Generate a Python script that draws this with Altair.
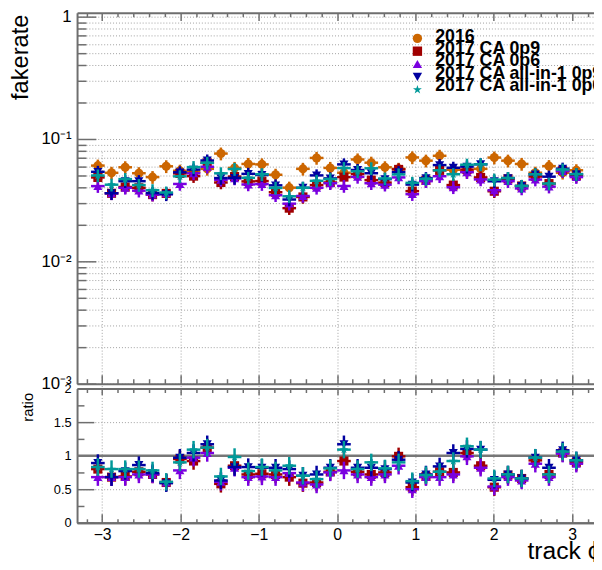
import altair as alt
import numpy as np
import pandas as pd

F = "Liberation Sans"
FRAME = "#6e6e6e"
GRID = "#a0a0a0"

# 36 bins in track phi from -pi to pi
phi_edges = np.linspace(-np.pi, np.pi, 37)

STAR = ("M0,-1L0.2245,-0.309L0.951,-0.309L0.363,0.118L0.588,0.809L0,0.382"
        "L-0.588,0.809L-0.363,0.118L-0.951,-0.309L-0.2245,-0.309Z")

series_names = ["2016", "2017 CA 0p9", "2017 CA 0p6", "2017 CA all-in-1 0p9", "2017 CA all-in-1 0p6"]
series_colors = ["#cc6600", "#a00000", "#7a00e0", "#0000a0", "#009999"]
series_shapes = ["circle", "square", "triangle-up", "triangle-down", STAR]

rate_2016 = [0.0606, 0.0529, 0.0587, 0.0525, 0.0488, 0.0598, 0.0550, 0.0540, 0.0570, 0.0760,
             0.0580, 0.0625, 0.0620, 0.0510, 0.0400, 0.0570, 0.0700, 0.0580, 0.0530, 0.0680,
             0.0640, 0.0587, 0.0570, 0.0707, 0.0665, 0.0729, 0.0560, 0.0540, 0.0570, 0.0705,
             0.0665, 0.0625, 0.0530, 0.0600, 0.0530, 0.0555]
rate_ca_0p9 = [0.0485, 0.0360, 0.0405, 0.0399, 0.0351, 0.0359, 0.0523, 0.0497, 0.0638, 0.0441,
               0.0493, 0.0450, 0.0453, 0.0367, 0.0272, 0.0336, 0.0420, 0.0441, 0.0488, 0.0517,
               0.0461, 0.0440, 0.0564, 0.0375, 0.0459, 0.0554, 0.0420, 0.0562, 0.0485, 0.0374,
               0.0472, 0.0413, 0.0493, 0.0432, 0.0551, 0.0500]
rate_ca_0p6 = [0.0412, 0.0360, 0.0399, 0.0378, 0.0351, 0.0359, 0.0429, 0.0524, 0.0593, 0.0464,
               0.0476, 0.0425, 0.0428, 0.0347, 0.0296, 0.0342, 0.0399, 0.0435, 0.0413, 0.0490,
               0.0435, 0.0423, 0.0485, 0.0354, 0.0452, 0.0496, 0.0403, 0.0535, 0.0467, 0.0381,
               0.0452, 0.0394, 0.0466, 0.0408, 0.0546, 0.0488]
rate_all_0p9 = [0.0539, 0.0360, 0.0452, 0.0452, 0.0361, 0.0353, 0.0534, 0.0562, 0.0667, 0.0479,
                0.0481, 0.0519, 0.0508, 0.0418, 0.0320, 0.0399, 0.0504, 0.0476, 0.0620, 0.0558,
                0.0525, 0.0470, 0.0536, 0.0424, 0.0479, 0.0612, 0.0582, 0.0594, 0.0621, 0.0451,
                0.0479, 0.0413, 0.0514, 0.0492, 0.0572, 0.0516]
rate_all_0p6 = [0.0503, 0.0423, 0.0470, 0.0420, 0.0381, 0.0365, 0.0495, 0.0589, 0.0638, 0.0524,
                0.0568, 0.0481, 0.0515, 0.0398, 0.0340, 0.0399, 0.0455, 0.0470, 0.0578, 0.0544,
                0.0576, 0.0475, 0.0513, 0.0438, 0.0472, 0.0554, 0.0515, 0.0616, 0.0621, 0.0465,
                0.0479, 0.0413, 0.0514, 0.0432, 0.0562, 0.0516]

ratio_ca_0p9 = [0.80, 0.68, 0.69, 0.76, 0.72, 0.60, 0.95, 0.92, 1.12, 0.58, 0.85, 0.72, 0.73, 0.72,
                0.68, 0.59, 0.60, 0.76, 0.92, 0.76, 0.72, 0.75, 0.99, 0.53, 0.69, 0.76, 0.75, 1.04,
                0.85, 0.53, 0.71, 0.66, 0.93, 0.72, 1.04, 0.90]
ratio_ca_0p6 = [0.68, 0.68, 0.68, 0.72, 0.72, 0.60, 0.78, 0.97, 1.04, 0.61, 0.82, 0.68, 0.69, 0.68,
                0.74, 0.60, 0.57, 0.75, 0.78, 0.72, 0.68, 0.72, 0.85, 0.50, 0.68, 0.68, 0.72, 0.99,
                0.82, 0.54, 0.68, 0.63, 0.88, 0.68, 1.03, 0.88]
ratio_all_0p9 = [0.89, 0.68, 0.77, 0.86, 0.74, 0.59, 0.97, 1.04, 1.17, 0.63, 0.83, 0.83, 0.82, 0.82,
                 0.80, 0.70, 0.72, 0.82, 1.17, 0.82, 0.82, 0.80, 0.94, 0.60, 0.72, 0.84, 1.04, 1.10,
                 1.09, 0.64, 0.72, 0.66, 0.97, 0.82, 1.08, 0.93]
ratio_all_0p6 = [0.83, 0.80, 0.80, 0.80, 0.78, 0.61, 0.90, 1.09, 1.12, 0.69, 0.98, 0.77, 0.83, 0.78,
                 0.85, 0.70, 0.65, 0.81, 1.09, 0.80, 0.90, 0.81, 0.90, 0.62, 0.71, 0.76, 0.92, 1.14,
                 1.09, 0.66, 0.72, 0.66, 0.97, 0.72, 1.06, 0.93]

rate_values = [rate_2016, rate_ca_0p9, rate_ca_0p6, rate_all_0p9, rate_all_0p6]
ratio_values = [ratio_ca_0p9, ratio_ca_0p6, ratio_all_0p9, ratio_all_0p6]
rate_relerr = [0.12, 0.12, 0.12, 0.12, 0.12]
ratio_err = [0.13, 0.13, 0.13, 0.13]

W, H = 524, 517
xscale = alt.Scale(domain=[-3.32, 3.28], nice=False, zero=False)


def top_scale():
    return alt.Scale(type="log", domain=[0.001, 1.077], range=[376, 0], nice=False)


def rat_scale():
    return alt.Scale(domain=[0, 2], range=[517, 381], nice=False, zero=False)


color_scale = alt.Scale(domain=series_names, range=series_colors)
shape_scale = alt.Scale(domain=series_names, range=series_shapes)

layers = []

# ---------------- axes (frame, ticks, grid, labels) ----------------
carrier_df = pd.DataFrame({"x": [0.0], "t": [0.1], "r": [1.0]})


def carrier(xaxis, yaxis, ratio):
    if ratio:
        yenc = alt.Y("r:Q", scale=rat_scale(), axis=yaxis)
    else:
        yenc = alt.Y("t:Q", scale=top_scale(), axis=yaxis)
    return alt.Chart(carrier_df).mark_point(opacity=0).encode(
        x=alt.X("x:Q", scale=xscale, axis=xaxis), y=yenc)


minor_phi = [round(-3.2 + 0.2 * k, 1) for k in range(33)]
major_phi = [-3, -2, -1, 0, 1, 2, 3]
is_int = "abs(datum.value - round(datum.value)) < 0.01"


def xtick_axis(orient, offset, major, minor):
    return alt.Axis(orient=orient, offset=offset, values=minor_phi, labels=False, title=None,
                    grid=False, domain=True, domainColor=FRAME, domainWidth=2, ticks=True,
                    tickColor=FRAME, tickWidth=1.5,
                    tickSize={"condition": {"test": is_int, "value": major}, "value": minor})


x_label_axis = alt.Axis(
    orient="bottom", offset=0, values=major_phi,
    labelExpr="datum.value < 0 ? '\u2212' + format(abs(datum.value), 'd') : format(datum.value, 'd')",
    labelFont=F, labelFontSize=16, labelColor="black", labelPadding=4,
    ticks=False, tickSize=0, domain=True, domainColor=FRAME, domainWidth=2,
    grid=True, gridColor=GRID, gridDash=[1, 2], gridWidth=1,
    title="track \u03d5", titleFont=F, titleFontSize=25, titleFontWeight="normal",
    titleColor="black", titleAlign="left", titleBaseline="alphabetic", titleX=456, titleY=36)

top_grid_vals = [m * 10.0 ** e for e in (-3, -2, -1) for m in range(1, 10)] + [1.0]
top_label_axis = alt.Axis(
    orient="left", offset=0, values=top_grid_vals,
    labelExpr=("abs(datum.value - 1) < 1e-6 ? '1' : abs(datum.value / 0.1 - 1) < 1e-6 ? '10\u207b\u00b9' : "
               "abs(datum.value / 0.01 - 1) < 1e-6 ? '10\u207b\u00b2' : "
               "abs(datum.value / 0.001 - 1) < 1e-6 ? '10\u207b\u00b3' : ''"),
    labelFont=F, labelFontSize=17, labelColor="black", labelPadding=6, labelOverlap=False,
    ticks=False, tickSize=0, domain=True, domainColor=FRAME, domainWidth=2,
    grid=True, gridColor=GRID, gridDash=[1, 2], gridWidth=1,
    title="fakerate", titleFont=F, titleFontSize=24, titleFontWeight="normal", titleColor="black",
    titleAngle=270, titleAlign="left", titleBaseline="alphabetic", titleX=-50, titleY=88)

is_decade = "abs(log(datum.value) / LN10 - round(log(datum.value) / LN10)) < 0.01"
top_tick_axis = alt.Axis(
    orient="right", offset=-W, values=top_grid_vals, labels=False, title=None, grid=False,
    domain=False, ticks=True, tickColor=FRAME, tickWidth=1.5,
    tickSize={"condition": {"test": is_decade, "value": 19}, "value": 9})

ratio_label_axis = alt.Axis(
    orient="left", offset=0, values=[0, 0.5, 1, 1.5, 2],
    labelExpr="datum.value == 0.5 || datum.value == 1.5 ? format(datum.value, '.1f') : format(datum.value, 'd')",
    labelFont=F, labelFontSize=13, labelColor="black", labelPadding=6, labelOverlap=False,
    ticks=False, tickSize=0, domain=True, domainColor=FRAME, domainWidth=2,
    grid=True, gridColor=GRID, gridDash=[1, 2], gridWidth=1,
    title="ratio", titleFont=F, titleFontSize=15, titleFontWeight="normal", titleColor="black",
    titleAngle=270, titleAlign="left", titleBaseline="alphabetic", titleX=-45, titleY=414)

is_half = "abs(datum.value * 2 - round(datum.value * 2)) < 0.01"
ratio_tick_axis = alt.Axis(
    orient="right", offset=-W, values=[0.25 * k for k in range(9)], labels=False, title=None,
    grid=False, domain=False, ticks=True, tickColor=FRAME, tickWidth=1.5,
    tickSize={"condition": {"test": is_half, "value": 17}, "value": 7})

layers.append(carrier(x_label_axis, top_label_axis, False))
layers.append(carrier(xtick_axis("top", -H, 9, 4), top_tick_axis, False))
layers.append(carrier(xtick_axis("bottom", -(H - 381), 6, 4), ratio_label_axis, True))
layers.append(carrier(xtick_axis("top", -376, 9, 5), ratio_tick_axis, True))
layers.append(carrier(xtick_axis("bottom", -H, 8, 4), None, False))

# reference line at ratio = 1
layers.append(alt.Chart(pd.DataFrame({"r": [1.0]})).mark_rule(color="#777777", strokeWidth=2.5).encode(
    y=alt.Y("r:Q", scale=rat_scale(), axis=None)))


def add_series(name, color, vals, lo_v, hi_v, scale_fn):
    df = pd.DataFrame({
        "series": name,
        "lo": phi_edges[:-1], "hi": phi_edges[1:],
        "x": (phi_edges[:-1] + phi_edges[1:]) / 2,
        "v": vals, "vlo": lo_v, "vhi": hi_v,
    })
    base = alt.Chart(df)
    layers.append(base.mark_rule(color=color, strokeWidth=2.5).encode(
        x=alt.X("lo:Q", scale=xscale, axis=None), x2="hi",
        y=alt.Y("v:Q", scale=scale_fn(), axis=None)))
    layers.append(base.mark_rule(color=color, strokeWidth=2.5).encode(
        x=alt.X("x:Q", scale=xscale, axis=None),
        y=alt.Y("vlo:Q", scale=scale_fn(), axis=None), y2="vhi"))
    layers.append(base.mark_point(filled=True, size=85, opacity=1, color=color).encode(
        x=alt.X("x:Q", scale=xscale, axis=None),
        y=alt.Y("v:Q", scale=scale_fn(), axis=None),
        shape=alt.Shape("series:N", scale=shape_scale, legend=None)))


for name, color, vals, e in zip(series_names, series_colors, rate_values, rate_relerr):
    add_series(name, color, vals, [v * (1 - e) for v in vals], [v * (1 + e) for v in vals], top_scale)

for name, color, vals, e in zip(series_names[1:], series_colors[1:], ratio_values, ratio_err):
    add_series(name, color, vals, [v - e for v in vals], [v + e for v in vals], rat_scale)

# ---------------- legend (drawn with the same colour/shape scales) ----------------
legend_df = pd.DataFrame({"series": series_names})
layers.append(alt.Chart(legend_df).mark_point(filled=True, size=90, opacity=1).encode(
    x=alt.value(345),
    y=alt.Y("series:N", scale=alt.Scale(type="point", domain=series_names, range=[26, 78], padding=0), axis=None),
    color=alt.Color("series:N", scale=color_scale, legend=None),
    shape=alt.Shape("series:N", scale=shape_scale, legend=None)))
layers.append(alt.Chart(legend_df).mark_text(
    align="left", baseline="middle", font=F, fontSize=18, fontWeight="bold", color="black").encode(
    x=alt.value(363),
    y=alt.Y("series:N", scale=alt.Scale(type="point", domain=series_names, range=[25, 74], padding=0), axis=None),
    text="series:N"))

chart = alt.layer(*layers).resolve_scale(y="independent").resolve_axis(
    x="independent", y="independent"
).properties(
    width=W, height=H,
    autosize=alt.AutoSizeParams(type="none"),
    padding={"left": 70, "top": 1, "right": 0, "bottom": 36},
    background="white",
).configure(font=F).configure_view(stroke=None)

chart.save("out.html", embed_options={"renderer": "svg", "actions": False})
